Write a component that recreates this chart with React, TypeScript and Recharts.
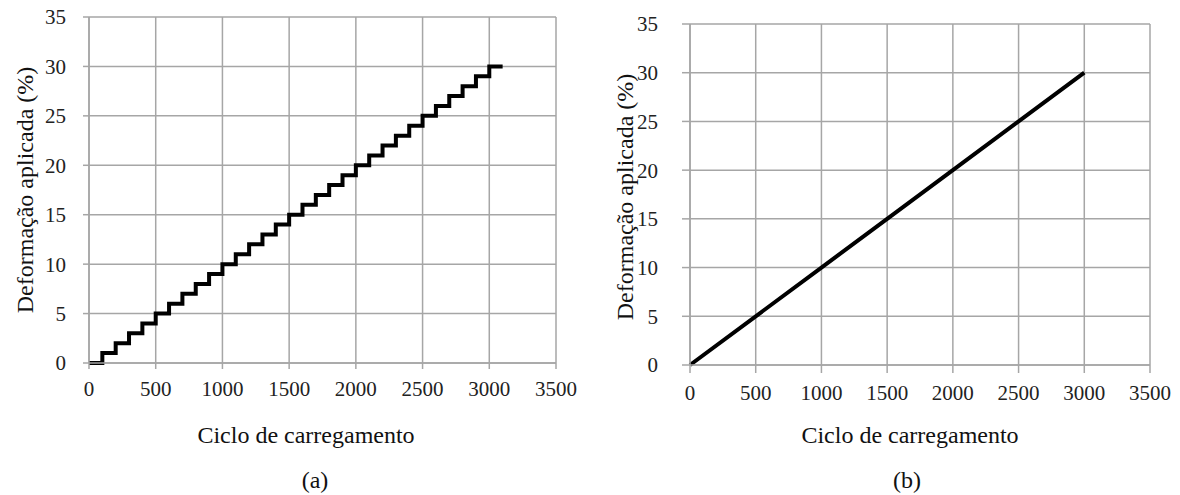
import { CartesianGrid, Line, LineChart, XAxis, YAxis } from "recharts";

// (a) stepped loading: cycle vs applied strain
const stepCycles = [
    0, 100, 200, 300, 400, 500, 600, 700, 800, 900, 1000, 1100, 1200, 1300, 1400, 1500,
    1600, 1700, 1800, 1900, 2000, 2100, 2200, 2300, 2400, 2500, 2600, 2700, 2800, 2900, 3000, 3100,
];
const stepStrain = [
    0, 1, 2, 3, 4, 5, 6, 7, 8, 9, 10, 11, 12, 13, 14, 15,
    16, 17, 18, 19, 20, 21, 22, 23, 24, 25, 26, 27, 28, 29, 30, 30,
];

// (b) continuous loading
const rampCycles = [0, 500, 1000, 1500, 2000, 2500, 3000];
const rampStrain = [0, 5, 10, 15, 20, 25, 30];

const xTicks = [0, 500, 1000, 1500, 2000, 2500, 3000, 3500];
const yTicks = [0, 5, 10, 15, 20, 25, 30, 35];

const xTitle = "Ciclo de carregamento";
const yTitle = "Deformação aplicada (%)";

const stepData = stepCycles.map((c, i) => ({ cycle: c, strain: stepStrain[i] }));
const rampData = rampCycles.map((c, i) => ({ cycle: c, strain: rampStrain[i] }));

const FONT = "'Liberation Serif', 'Times New Roman', serif";
const GRID = "#a6a6a6";
const tickStyle = { fontSize: 21, fill: "#222", fontFamily: FONT };

type PanelProps = {
    data: { cycle: number; strain: number }[];
    step: boolean;
    left: number;
    top: number;
    bottom: number;
    right: number;
    yWidth: number;
    tickLen: number;
    yMargin: number;
};

const H = 425;

const Panel = ({ data, step, left, top, bottom, right, yWidth, tickLen, yMargin }: PanelProps) => (
    <div style={{ position: "absolute", left, top: 0 }}>
        <LineChart width={580} height={H} data={data} margin={{ top, right, left: 0, bottom: 0 }}>
            <CartesianGrid stroke={GRID} strokeWidth={1.5} />
            <XAxis
                dataKey="cycle"
                type="number"
                domain={[0, 3500]}
                ticks={xTicks}
                height={H - bottom}
                tick={tickStyle}
                tickSize={tickLen}
                tickMargin={12}
                stroke={GRID}
                strokeWidth={1.5}
                interval={0}
            />
            <YAxis
                type="number"
                domain={[0, 35]}
                ticks={yTicks}
                width={yWidth}
                tick={tickStyle}
                tickSize={tickLen}
                tickMargin={yMargin}
                stroke={GRID}
                strokeWidth={1.5}
                interval={0}
            />
            <Line
                dataKey="strain"
                type={step ? "stepAfter" : "linear"}
                stroke="#000"
                strokeWidth={4}
                dot={false}
                isAnimationActive={false}
            />
        </LineChart>
    </div>
);

const textStyle = { position: "absolute" as const, fontFamily: FONT, color: "#111", whiteSpace: "nowrap" as const };

export default function App() {
    return (
        <div style={{ position: "absolute", left: 0, top: 0, width: 1180, height: 495, background: "#fff", overflow: "hidden" }}>
            <Panel data={stepData} step left={0} top={17} bottom={363} right={24} yWidth={89} tickLen={6} yMargin={17} />
            <Panel data={rampData} step={false} left={600} top={24} bottom={365} right={30} yWidth={90} tickLen={8} yMargin={24} />

            <div style={{ ...textStyle, fontSize: 24, left: 25, top: 190, transform: "translate(-50%, -50%) rotate(-90deg)" }}>{yTitle}</div>
            <div style={{ ...textStyle, fontSize: 24, left: 625, top: 197, transform: "translate(-50%, -50%) rotate(-90deg)" }}>{yTitle}</div>

            <div style={{ ...textStyle, fontSize: 24, left: 306, top: 435, transform: "translate(-50%, -50%)" }}>{xTitle}</div>
            <div style={{ ...textStyle, fontSize: 24, left: 910, top: 435, transform: "translate(-50%, -50%)" }}>{xTitle}</div>

            <div style={{ ...textStyle, fontSize: 24, left: 315, top: 480, transform: "translate(-50%, -50%)" }}>(a)</div>
            <div style={{ ...textStyle, fontSize: 24, left: 907, top: 480, transform: "translate(-50%, -50%)" }}>(b)</div>
        </div>
    );
}
